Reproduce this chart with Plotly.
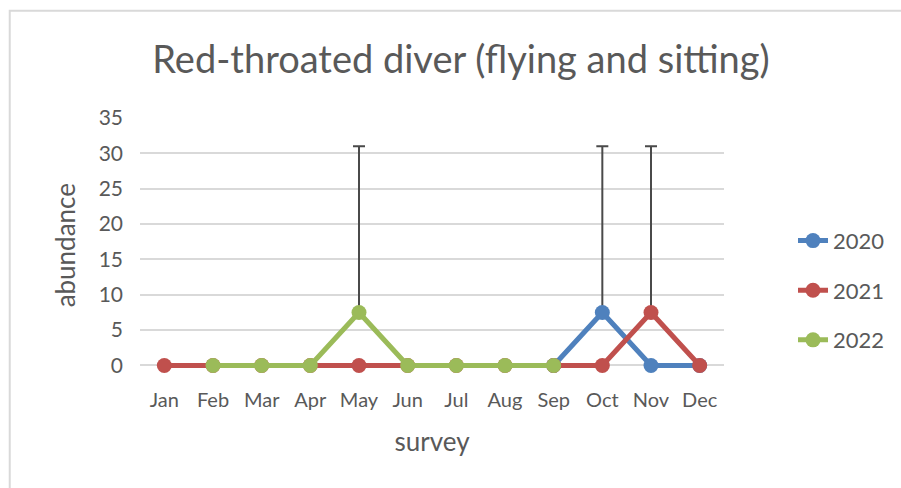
import plotly.graph_objects as go

# Monthly survey abundance of red-throated diver (flying and sitting)
months = ["Jan", "Feb", "Mar", "Apr", "May", "Jun", "Jul", "Aug", "Sep", "Oct", "Nov", "Dec"]

abund_2020 = [None, None, None, None, None, None, None, None, 0, 7.5, 0, 0]
abund_2021 = [0, 0, 0, 0, 0, 0, 0, 0, 0, 0, 7.5, 0]
abund_2022 = [None, 0, 0, 0, 7.5, 0, 0, 0, 0, None, None, None]

# Upper error (plus only)
err_2020 = [None, None, None, None, None, None, None, None, None, 23.5, None, None]
err_2021 = [None, None, None, None, None, None, None, None, None, None, 23.5, None]
err_2022 = [None, None, None, None, 23.5, None, None, None, None, None, None, None]

years = ["2020", "2021", "2022"]
colors = ["#4F81BD", "#C0504D", "#9BBB59"]
series = [abund_2020, abund_2021, abund_2022]
errors = [err_2020, err_2021, err_2022]

FONT = "Lato"
TXT = "#595959"

# y range padded slightly below zero so lines along 0 are not clipped
Y_LO, Y_HI = -0.5, 35
TOP, ZERO_PX = 118, 365
px_per_unit = (ZERO_PX - TOP) / Y_HI
bottom_px = ZERO_PX + (0 - Y_LO) * px_per_unit
plot_h = bottom_px - TOP
PL, PR = 140, 725

fig = go.Figure()
for name, vals, err, col in zip(years, series, errors, colors):
    fig.add_trace(go.Scatter(
        x=months, y=vals, name=name, mode="lines+markers",
        line=dict(color=col, width=5),
        marker=dict(color=col, size=15),
        legendgroup=name,
        cliponaxis=False,
        error_y=dict(type="data", symmetric=False, array=err,
                     arrayminus=[0 if e is not None else None for e in err],
                     color="#4a4a4a", thickness=2, width=6),
        connectgaps=False,
    ))

fig.update_layout(
    width=901, height=488,
    margin=dict(l=PL, r=901 - PR, t=TOP, b=488 - bottom_px),
    paper_bgcolor="white", plot_bgcolor="white",
    font=dict(family=FONT, color=TXT, size=20),
    title=dict(text="Red-throated diver (flying and sitting)",
               x=461 / 901, xanchor="center", y=1 - 60 / 488, yanchor="middle",
               font=dict(family=FONT, size=38, color=TXT)),
    showlegend=True,
    legend=dict(x=(793 - PL) / (PR - PL), xanchor="left",
                y=(bottom_px - 290) / plot_h, yanchor="middle",
                font=dict(size=22, color=TXT), tracegroupgap=18,
                bgcolor="rgba(0,0,0,0)"),
    shapes=[dict(type="rect", xref="paper", yref="paper",
                 x0=(9.5 - PL) / (PR - PL), x1=1.5,
                 y0=-1, y1=(bottom_px - 11) / plot_h,
                 line=dict(color="#d9d9d9", width=2), fillcolor="rgba(0,0,0,0)",
                 layer="below")],
    annotations=[dict(text="abundance", textangle=-90, showarrow=False,
                      xref="paper", yref="paper",
                      x=(65 - PL) / (PR - PL), y=(bottom_px - 245) / plot_h,
                      xanchor="center", yanchor="middle",
                      font=dict(size=26, color=TXT))],
)

fig.update_xaxes(
    type="category", range=[-0.5, 11.5],
    showgrid=False, showline=False,
    ticks="", ticklabelstandoff=17, tickfont=dict(size=20, color=TXT),
    title=dict(text="survey", font=dict(size=26, color=TXT), standoff=22),
)
fig.update_yaxes(
    range=[Y_LO, Y_HI], tick0=0, dtick=5, showgrid=True, gridcolor="#d9d9d9", gridwidth=2,
    zeroline=False, showline=False, ticks="", ticklabelstandoff=16,
    tickfont=dict(size=21, color=TXT),
)

fig.write_html("out.html")
